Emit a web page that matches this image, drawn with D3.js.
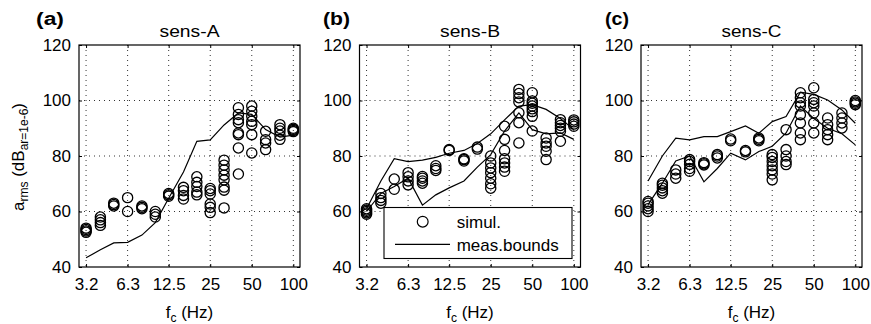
<!DOCTYPE html>
<html><head><meta charset="utf-8">
<script src="https://cdn.jsdelivr.net/npm/d3@7"></script>
<style>
body{margin:0;background:#fff}
svg{display:block;font-family:"Liberation Sans",Arial,Helvetica,sans-serif}
</style></head><body>
<svg id="chart" width="871" height="324"></svg>
<script>
// 1/3-octave band centre frequencies (Hz)
const bands = [3.15,4,5,6.3,8,10,12.5,16,20,25,31.5,40,50,63,80,100];
const xTickValues = [3.15,6.3,12.5,25,50,100];
const xTickLabels = ["3.2","6.3","12.5","25","50","100"];
const yTickValues = [40,60,80,100,120];
const panelLetters = ["(a)","(b)","(c)"];
const panelTitles = ["sens-A","sens-B","sens-C"];
const legendLabels = ["simul.","meas.bounds"];

// simulated values per band (dB)
const simA = [
 [52.5,53,53.5,54],[55,56,57,58],[62,62.5,63],[60,65],[61,61.5,62],[58,59,60],
 [65.5,66,66.5],[64.5,65.8,67.5,68.7],[66,67,69,70.5,72.5],[59.6,61.5,62.7,66.3,67.5,68.3],
 [61.3,67.7,68.8,71.4,73.1,75,76.7,78.5],[73.5,82.9,87.7,88.3,92,93.1,95,97.4],
 [81.1,87.7,91.3,92.5,94.3,96.1,98],[82.3,84.7,85.9,88.9],[86,87.5,89,90,91.3],[88.8,89.2,89.6,90]
];
const simB = [
 [59,59.5,60,60.5,61],[63,64,65,66.5],[68,71.7],[69.6,71,72.5,74],[70.2,71,72,72.6],[74.8,75.5,76.5],
 [82,82.3],[78.2,78.7,79],[82.5,83.2],[68.4,70,72,74,75.7,77.5,80],
 [74.5,76,77.5,79,82,86,90.7],[84.7,92,95.6,99.5,101,102.5,104],
 [89,94.3,96,97,98,99,99.8,102.8],[78.7,81.7,83.5,84.7,86.5],[85.3,88.9,90,91,92,93.1],[90.7,91.5,92.3,93]
];
const simC = [
 [60,61,62,63,63.6],[66.6,67.5,68.5,69.5,70.2],[72,73.5,75],[74.5,75.5,77,78,78.7],[76.8,77.2,77.6],[79.3,80,80.5],
 [85.5,86.1],[81.5,82],[85.5,86,86.5],[71.4,73.5,75,76.5,78,79.5,80.5],
 [76.9,78,80,82.3,89.5],[85.9,88.3,91.9,94.9,98,99.2,101,102.8],
 [88.3,91.9,95.5,98,99.2,100.4,104.6],[85.9,87.7,89.5,91.3,93.7],[90.1,91.9,93.7,95.5],[98.5,99,99.5,100]
];
// measured bounds per band (dB)
const measA = [43.3,46.2,48.7,48.9,51.5,56,64.8,74.2,85.3,85.8,91.2,95.5,95,89.5,86.8,87.5];
const upperB = [61,71,79,78,78.5,79.5,81,82,84.5,88,93,98,98.5,96.8,93.5,89.5];
const lowerB = [60,66.5,69,72,62.3,66,68.5,71,76,80.5,89,95.5,89.5,88,88.3,86];
const upperC = [71,80,86.4,85.8,87,87,88.8,90.8,88.2,92.4,94.2,103,102.2,100.2,96.6,91.8];
const lowerC = [62.5,70.2,78.2,80,70.7,75.5,81,78.6,81.6,83.5,88.3,98,93.5,90,88,84];

const panels = [
  {sim: simA, bounds: [measA]},
  {sim: simB, bounds: [upperB, lowerB], legend: true},
  {sim: simC, bounds: [upperC, lowerC]}
];

const svg = d3.select("#chart");
const W = 221, H = 222, TOP = 45;
const lefts = [79, 359.5, 641];
const letterX = [36, 323, 605];
const letterW = [28, 27, 24];
const FS = 17;

const x = d3.scaleLog().domain([2.8, 111.8]).range([0, W]);
const y = d3.scaleLinear().domain([40, 120]).range([H, 0]);
const line = d3.line().x((d, i) => x(bands[i])).y(d => y(d));

panels.forEach((p, pi) => {
  const g = svg.append("g").attr("transform", `translate(${lefts[pi]},${TOP})`);

  // dotted grid
  const grid = g.append("g").attr("stroke", "#333").attr("stroke-width", 1)
    .attr("stroke-dasharray", "1,4").attr("fill", "none");
  grid.selectAll("line.vx").data(xTickValues).join("line")
    .attr("x1", d => x(d)).attr("x2", d => x(d)).attr("y1", 0).attr("y2", H);
  grid.selectAll("line.hy").data(yTickValues.slice(1, -1)).join("line")
    .attr("class","hy")
    .attr("x1", 0).attr("x2", W).attr("y1", d => y(d)).attr("y2", d => y(d));

  // measured bounds
  g.selectAll("path.bound").data(p.bounds).join("path")
    .attr("class", "bound").attr("d", line)
    .attr("fill", "none").attr("stroke", "#000").attr("stroke-width", 1.2);

  // simulated circles
  const pts = [];
  p.sim.forEach((vals, i) => vals.forEach(v => pts.push({f: bands[i], v})));
  g.selectAll("circle.sim").data(pts).join("circle")
    .attr("class", "sim").attr("cx", d => x(d.f)).attr("cy", d => y(d.v)).attr("r", 5.1)
    .attr("fill", "none").attr("stroke", "#000").attr("stroke-width", 1.3);

  // axes with inward ticks
  const ax = g.append("g").attr("transform", `translate(0,${H})`)
    .call(d3.axisBottom(x).tickValues(xTickValues).tickFormat((d, i) => xTickLabels[i])
      .tickSizeInner(-3).tickSizeOuter(0).tickPadding(11));
  ax.selectAll("text").attr("font-size", FS).attr("fill", "#000").attr("font-family", null);
  const ay = g.append("g")
    .call(d3.axisLeft(y).tickValues(yTickValues).tickSizeInner(-3).tickSizeOuter(0).tickPadding(8));
  ay.selectAll("text").attr("font-size", FS).attr("fill", "#000").attr("font-family", null);
  g.append("g").call(d3.axisTop(x).tickValues(xTickValues).tickFormat("").tickSizeInner(-3).tickSizeOuter(0));
  g.append("g").attr("transform", `translate(${W},0)`)
    .call(d3.axisRight(y).tickValues(yTickValues).tickFormat("").tickSizeInner(-3).tickSizeOuter(0));
  g.selectAll(".domain").remove();
  g.selectAll(".tick line").attr("stroke", "#000");

  g.append("rect").attr("width", W).attr("height", H)
    .attr("fill", "none").attr("stroke", "#000").attr("stroke-width", 1.2);

  // title
  g.append("text").attr("x", W / 2).attr("y", 36.5 - TOP).attr("text-anchor", "middle")
    .attr("font-size", FS).attr("textLength", 60).attr("lengthAdjust", "spacingAndGlyphs")
    .text(panelTitles[pi]);

  // x label
  const xl = g.append("text").attr("x", W / 2).attr("y", 318 - TOP).attr("text-anchor", "middle")
    .attr("font-size", FS);
  xl.append("tspan").text("f");
  xl.append("tspan").attr("font-size", 12).attr("dy", 4).text("c");
  xl.append("tspan").attr("dy", -4).text(" (Hz)");

  // panel letter
  svg.append("text").attr("x", letterX[pi]).attr("y", 25).attr("font-size", 18)
    .attr("font-weight", "bold").attr("textLength", letterW[pi])
    .attr("lengthAdjust", "spacingAndGlyphs").text(panelLetters[pi]);

  if (p.legend) {
    const lg = svg.append("g");
    lg.append("rect").attr("x", 384).attr("y", 207.5).attr("width", 188).attr("height", 51)
      .attr("fill", "#fff").attr("stroke", "#000").attr("stroke-width", 1.1);
    lg.append("circle").attr("cx", 422.7).attr("cy", 221.7).attr("r", 5.4)
      .attr("fill", "none").attr("stroke", "#000").attr("stroke-width", 1.2);
    lg.append("line").attr("x1", 395).attr("x2", 450).attr("y1", 244.3).attr("y2", 244.3)
      .attr("stroke", "#000").attr("stroke-width", 1.2);
    lg.append("text").attr("x", 456.7).attr("y", 228).attr("font-size", FS).text(legendLabels[0]);
    lg.append("text").attr("x", 456.7).attr("y", 250.5).attr("font-size", FS).text(legendLabels[1]);
  }
});

// y label
const yl = svg.append("text").attr("transform", "translate(23.5,157) rotate(-90)")
  .attr("text-anchor", "middle").attr("font-size", FS);
yl.append("tspan").text("a");
yl.append("tspan").attr("font-size", 12).attr("dy", 4).text("rms");
yl.append("tspan").attr("dy", -4).text(" (dB");
yl.append("tspan").attr("font-size", 12).attr("dy", 4).text("ar=1e-6");
yl.append("tspan").attr("dy", -4).text(")");
</script>
</body></html>
